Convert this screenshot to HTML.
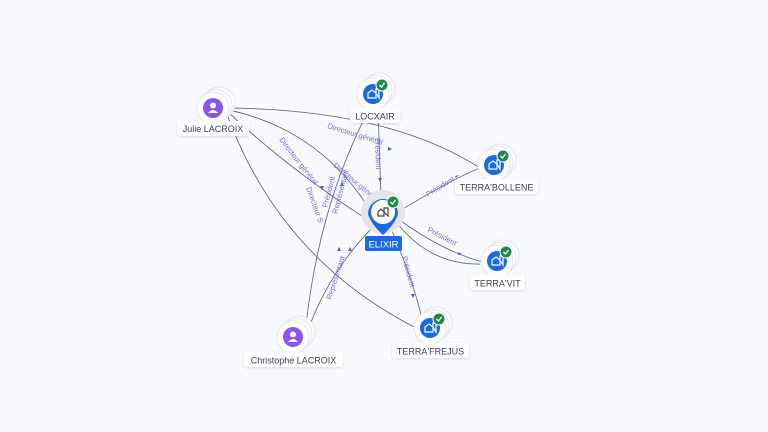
<!DOCTYPE html>
<html><head><meta charset="utf-8"><style>
html,body{margin:0;padding:0;background:#f8f9fd;}
svg{display:block;font-family:"Liberation Sans",sans-serif;}
.lbl{font-size:9px;fill:#3c4058;}
.el{font-size:7.5px;fill:#7a6fe6;}
</style></head><body>
<svg width="768" height="432" viewBox="0 0 768 432" xmlns="http://www.w3.org/2000/svg">
<defs>
<filter id="sh" x="-20%" y="-30%" width="140%" height="160%"><feDropShadow dx="0" dy="1" stdDeviation="1" flood-color="#000" flood-opacity="0.12"/></filter>
<g id="stack">
<circle cx="6" cy="-5" r="16" fill="#fff" stroke="#e3e5ec"/>
<circle cx="3" cy="-2.5" r="16" fill="#fff" stroke="#e3e5ec"/>
<circle cx="0" cy="0" r="16" fill="#fff" stroke="#e3e5ec"/>
</g>
<g id="co">
<use href="#stack"/>
<circle r="10" fill="#1a6ae8"/>
<path d="M-5 4 V-1 L-1 -4 L3 -1 V4 Z M3 -1 V-5 H6 V4 Z" fill="none" stroke="#fff" stroke-width="1.2"/>
<circle cx="9" cy="-9" r="6" fill="#1f8a4c" stroke="#fff" stroke-width="1"/>
<path d="M6.5 -9 L8.5 -7 L11.5 -11" fill="none" stroke="#fff" stroke-width="1.3"/>
</g>
<g id="pe">
<use href="#stack"/>
<circle r="10" fill="#8b55f0"/>
<circle cy="-2.5" r="3" fill="#fff"/>
<path d="M-5 5 Q0 -1 5 5 Z" fill="#fff"/>
</g>
</defs>
<g fill="none" stroke="#6a6f88" stroke-width="0.9">
<path d="M229 108 Q390 110 480 168"/>
<path d="M229 110 Q320 130 370 210"/>
<path d="M228 112 Q290 170 365 218"/>
<path d="M227 114 Q280 260 420 330"/>
<path d="M378 108 L381 198"/>
<path d="M372 104 Q320 200 306 325"/>
<path d="M398 212 Q450 180 480 168"/>
<path d="M397 218 Q440 250 482 262"/>
<path d="M396 222 Q430 265 480 264"/>
<path d="M390 226 Q415 285 422 320"/>
<path d="M374 226 Q330 270 308 330"/>
</g>
<g class="el">
<text transform="translate(327,128) rotate(17)">Directeur général</text>
<text transform="translate(333,166) rotate(40)">Directeur général</text>
<text transform="translate(279,140) rotate(52)">Directeur général</text>
<text transform="translate(306,188) rotate(70)">Directeur S</text>
<text transform="translate(375,138) rotate(88)">Président</text>
<text transform="translate(327,208) rotate(-75)">Président</text>
<text transform="translate(337,214) rotate(-75)">Représentant</text>
<text transform="translate(428,197) rotate(-32)">Président</text>
<text transform="translate(427,231) rotate(28)">Président</text>
<text transform="translate(402,257) rotate(75)">Président</text>
<text transform="translate(331,300) rotate(-72)">Représentant</text>
</g>
<g fill="#5a55d8">
<path d="M378 178 l2 4 l2 -4z"/><path d="M388 147 l4 2 l-4 2z"/>
<path d="M455 176 l4 -1 l-3 3z"/><path d="M458 252 l4 2 l-4 1z"/>
<path d="M411 294 l2 4 l2 -4z"/><path d="M320 186 l2 4 l2 -4z"/>
<path d="M340 186 l2 -4 l2 4z"/><path d="M337 251 l2 -4 l2 4z"/>
<path d="M348 251 l2 -4 l2 4z"/>
</g>
<use href="#pe" x="213" y="108"/>
<use href="#pe" x="293" y="337"/>
<use href="#co" x="373" y="94"/>
<use href="#co" x="494" y="165"/>
<use href="#co" x="497" y="261"/>
<use href="#co" x="430" y="328"/>
<circle cx="383" cy="212" r="22" fill="#e4e5ea"/>
<path d="M368 214 A15 15 0 1 1 398 214 Q395 224 383 235 Q371 224 368 214Z" fill="#1a6ae8"/>
<circle cx="383" cy="212" r="12" fill="#fff"/>
<path d="M378 216 V212 L381 209 L384 212 V216 Z M384 212 V208 H388 V216 Z" fill="none" stroke="#444" stroke-width="1.2"/>
<circle cx="393" cy="202" r="6" fill="#1f8a4c" stroke="#fff"/>
<path d="M390.5 202 L392.5 204 L395.5 200" fill="none" stroke="#fff" stroke-width="1.3"/>
<rect x="365" y="236" width="37" height="15" rx="2" fill="#1a6ae8"/>
<text x="383.5" y="247.5" text-anchor="middle" font-size="9.5" fill="#fff">ELIXIR</text>
<g filter="url(#sh)">
<rect x="177" y="121" width="72" height="15" rx="3" fill="#fff"/>
<rect x="350" y="108" width="50" height="15" rx="3" fill="#fff"/>
<rect x="455" y="179" width="83" height="15" rx="3" fill="#fff"/>
<rect x="470" y="275" width="55" height="15" rx="3" fill="#fff"/>
<rect x="392" y="343" width="77" height="15" rx="3" fill="#fff"/>
<rect x="244" y="352" width="99" height="15" rx="3" fill="#fff"/>
</g>
<text class="lbl" x="213" y="132" text-anchor="middle">Julie LACROIX</text>
<text class="lbl" x="375" y="119.5" text-anchor="middle">LOCXAIR</text>
<text class="lbl" x="496.5" y="190.5" text-anchor="middle">TERRA'BOLLENE</text>
<text class="lbl" x="497.5" y="286.5" text-anchor="middle">TERRA'VIT</text>
<text class="lbl" x="430.5" y="354.5" text-anchor="middle">TERRA'FREJUS</text>
<text class="lbl" x="293.5" y="363.5" text-anchor="middle">Christophe LACROIX</text>
</svg>
</body></html>
